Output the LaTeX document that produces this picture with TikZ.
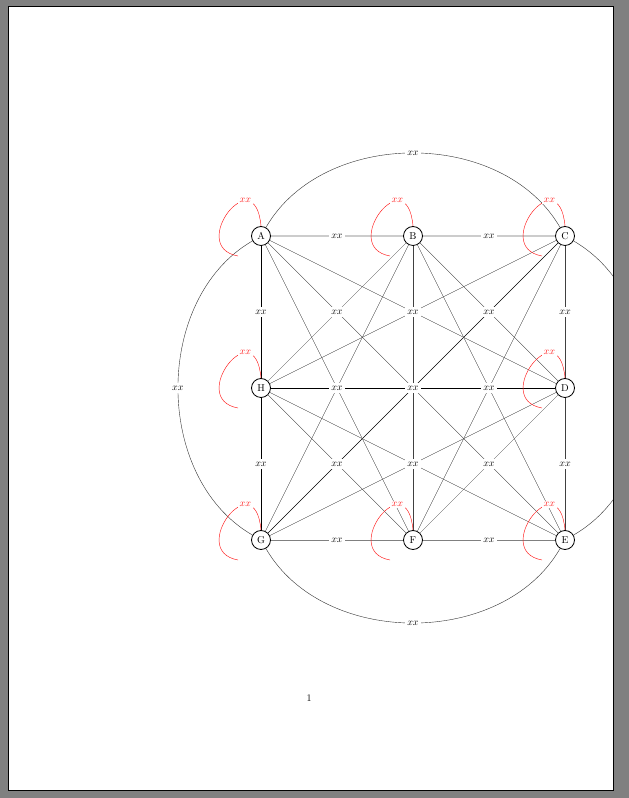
\documentclass[tikz,border=0pt]{standalone}
\usetikzlibrary{arrows.meta}

\begin{document}
\begin{tikzpicture}[
    x=1pt, y=1pt,
    vertex/.style={circle, draw=black, line width=0.8pt, fill=white, minimum size=19pt, inner sep=0pt},
    link/.style={draw=black!75, line width=0.35pt},
    boldlink/.style={draw=black, line width=0.8pt},
    paleline/.style={draw=black!20, line width=1.2pt},
    greyline/.style={draw=black!50, line width=0.5pt},
    arcline/.style={draw=black!80, line width=0.4pt, bend left=60},
    tag/.style={fill=white, inner sep=2.5pt},
    selfloop/.style={draw=red!90, line width=0.45pt},
    looptag/.style={fill=white, inner sep=1.5pt, text=red!90}
]

% ==================== PAGE ====================
\fill[black!50] (0,0) rectangle (629,798);
\fill[white] (8,8) rectangle (613,792);

\begin{scope}
\clip (8,8) rectangle (613,792);

% ==================== VERTICES ====================
\node[vertex] (A) at (261,562) {A};
\node[vertex] (B) at (413,562) {B};
\node[vertex] (C) at (565,562) {C};
\node[vertex] (H) at (261,410) {H};
\node[vertex] (D) at (565,410) {D};
\node[vertex] (G) at (261,258) {G};
\node[vertex] (F) at (413,258) {F};
\node[vertex] (E) at (565,258) {E};

% ==================== EDGES ====================
% through the centre
\draw[link] (A) -- node[tag] {$xx$} (E);
\draw[link] (B) -- node[tag] {$xx$} (F);
\draw[boldlink, line width=0.6pt] (C) -- node[tag] {$xx$} (G);
\draw[boldlink] (H) -- node[tag] {$xx$} (D);

% from A
\draw[paleline] (A) -- node[tag] {$xx$} (B);
\draw[link] (A) -- node[tag] {$xx$} (D);
\draw[link] (A) -- node[tag] {$xx$} (F);
\draw[boldlink] (A) -- node[tag] {$xx$} (H);

% from B
\draw[paleline] (B) -- node[tag] {$xx$} (C);
\draw[link] (B) -- node[tag] {$xx$} (D);
\draw[link] (B) -- node[tag] {$xx$} (E);
\draw[link] (B) -- node[tag] {$xx$} (G);
\draw[link] (B) -- node[tag] {$xx$} (H);

% from C
\draw[link] (C) -- node[tag] {$xx$} (D);
\draw[link] (C) -- node[tag] {$xx$} (F);
\draw[link] (C) -- node[tag] {$xx$} (H);

% from D
\draw[link] (D) -- node[tag] {$xx$} (E);
\draw[link] (D) -- node[tag] {$xx$} (F);
\draw[link] (D) -- node[tag] {$xx$} (G);

% from E, F, G
\draw[greyline] (E) -- node[tag] {$xx$} (F);
\draw[link] (E) -- node[tag] {$xx$} (H);
\draw[greyline] (F) -- node[tag] {$xx$} (G);
\draw[link] (F) -- node[tag] {$xx$} (H);
\draw[boldlink] (G) -- node[tag] {$xx$} (H);

% outer arcs (the right one runs off the page)
\draw[arcline] (A) to node[tag] {$xx$} (C);
\draw[arcline] (C) to (E);
\draw[arcline] (E) to node[tag] {$xx$} (G);
\draw[arcline] (G) to node[tag] {$xx$} (A);

% ==================== LOOPS ====================
\foreach \n in {A,B,C,D,E,F,G,H} {
    \coordinate (\n-tail) at ([shift={(-23,-20)}]\n.center);
    \draw[selfloop] (\n.north) .. controls +(95:68) and +(170:52) .. node[looptag, pos=0.28] {$xx$} (\n-tail);
}
\end{scope}

\draw[line width=0.8pt] (8,8) rectangle (613,792);
\node (pagenum) at (309,100) {1};

\end{tikzpicture}
\end{document}
